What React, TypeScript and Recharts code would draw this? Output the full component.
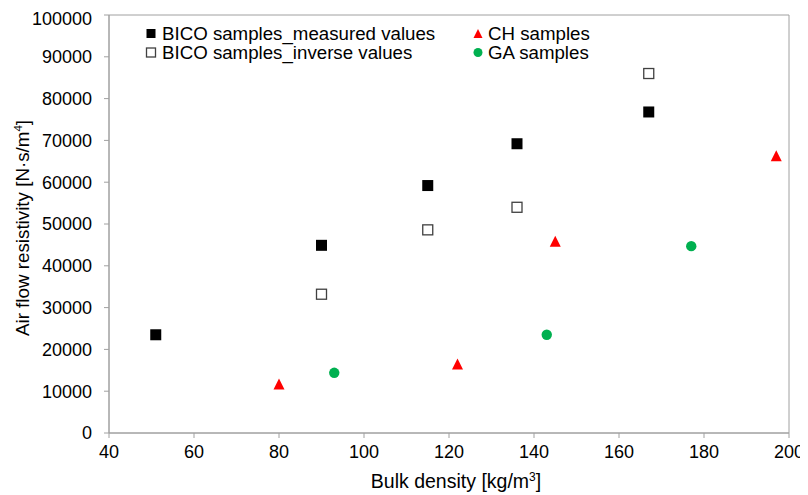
import {
  Label,
  Legend,
  ReferenceArea,
  Scatter,
  ScatterChart,
  XAxis,
  YAxis,
} from 'recharts'

// bulk density [kg/m3] and air flow resistivity [N·s/m4] per sample group
const bicoMeasuredDensity = [51, 90, 115, 136, 167]
const bicoMeasuredResistivity = [23500, 44900, 59200, 69200, 76800]

const bicoInverseDensity = [90, 115, 136, 167]
const bicoInverseResistivity = [33200, 48600, 54000, 86000]

const chDensity = [80, 122, 145, 197]
const chResistivity = [11700, 16500, 45900, 66300]

const gaDensity = [93, 143, 177]
const gaResistivity = [14400, 23500, 44700]

const xTicks = [40, 60, 80, 100, 120, 140, 160, 180, 200]
const yTicks = [0, 10000, 20000, 30000, 40000, 50000, 60000, 70000, 80000, 90000, 100000]

const toPoints = (xs: number[], ys: number[]) =>
  xs.map((x, i) => ({ x, y: ys[i] }))

const bicoMeasured = toPoints(bicoMeasuredDensity, bicoMeasuredResistivity)
const bicoInverse = toPoints(bicoInverseDensity, bicoInverseResistivity)
const chSamples = toPoints(chDensity, chResistivity)
const gaSamples = toPoints(gaDensity, gaResistivity)

const FONT = 'Arial, "Liberation Sans", sans-serif'
const AXIS_GRAY = '#a0a0a0'
const RED = '#ff0000'
const GREEN = '#00b050'

// marker shapes
const FilledSquare = ({ cx, cy, s = 11 }: any) => (
  <rect x={cx - s / 2} y={cy - s / 2} width={s} height={s} fill='#000' />
)
const OpenSquare = ({ cx, cy, s = 10 }: any) => (
  <rect
    x={cx - s / 2}
    y={cy - s / 2}
    width={s}
    height={s}
    fill='#fff'
    stroke='#404040'
    strokeWidth={1.3}
  />
)
const Triangle = ({ cx, cy, s = 11 }: any) => (
  <polygon
    points={`${cx},${cy - s / 2} ${cx + s / 2},${cy + s / 2} ${cx - s / 2},${cy + s / 2}`}
    fill={RED}
  />
)
const Dot = ({ cx, cy, r = 5.2 }: any) => (
  <circle cx={cx} cy={cy} r={r} fill={GREEN} />
)

function ChartLegend() {
  const text = { fontFamily: FONT, fontSize: 18.7, fill: '#000' }
  const row1 = 9.5
  const row2 = 28.5
  return (
    <svg width={480} height={40}>
      <FilledSquare cx={8} cy={row1} s={9} />
      <text x={19} y={row1} dy='0.35em' {...text}>
        BICO samples_measured values
      </text>
      <OpenSquare cx={8} cy={row2} s={9} />
      <text x={19} y={row2} dy='0.35em' {...text}>
        BICO samples_inverse values
      </text>
      <Triangle cx={335} cy={row1} s={9} />
      <text x={345} y={row1} dy='0.35em' {...text}>
        CH samples
      </text>
      <Dot cx={335} cy={row2} r={4.5} />
      <text x={345} y={row2} dy='0.35em' {...text}>
        GA samples
      </text>
    </svg>
  )
}

const XTitle = ({ viewBox }: any) => {
  const cx = viewBox.x + viewBox.width / 2 + 7
  return (
    <text
      x={cx}
      y={viewBox.y + 55}
      textAnchor='middle'
      fontFamily={FONT}
      fontSize={19.5}
      fill='#000'
    >
      Bulk density [kg/m
      <tspan fontSize={12} dy={-7}>
        3
      </tspan>
      <tspan dy={7}>]</tspan>
    </text>
  )
}

const YTitle = ({ viewBox }: any) => {
  const cy = viewBox.y + viewBox.height / 2 + 4
  const x = 21
  return (
    <text
      x={x}
      y={cy}
      transform={`rotate(-90, ${x}, ${cy})`}
      textAnchor='middle'
      fontFamily={FONT}
      fontSize={18.8}
      fill='#000'
    >
      Air flow resistivity [N·s/m
      <tspan fontSize={11.5} dy={-7}>
        4
      </tspan>
      <tspan dy={7}>]</tspan>
    </text>
  )
}

export default function App() {
  const tick = { fontFamily: FONT, fontSize: 18, fill: '#000' }
  return (
    <ScatterChart
      width={800}
      height={487}
      margin={{ top: 7, right: 19, bottom: 0, left: 0 }}
    >
      <XAxis
        type='number'
        dataKey='x'
        domain={[40, 200]}
        ticks={xTicks}
        height={62}
        tick={tick}
        tickSize={5}
        tickMargin={7}
        stroke={AXIS_GRAY}
        tickLine={{ stroke: AXIS_GRAY }}
        allowDataOverflow
      >
        <Label content={<XTitle />} />
      </XAxis>
      <YAxis
        type='number'
        dataKey='y'
        domain={[0, 100000]}
        ticks={yTicks}
        width={101}
        tick={tick}
        tickSize={5}
        tickMargin={12}
        stroke={AXIS_GRAY}
        tickLine={{ stroke: AXIS_GRAY }}
        allowDataOverflow
      >
        <Label content={<YTitle />} />
      </YAxis>
      {/* plot frame */}
      <ReferenceArea
        x1={40}
        x2={200}
        y1={0}
        y2={100000}
        fill='none'
        fillOpacity={0}
        stroke={AXIS_GRAY}
        strokeWidth={1}
      />
      <Legend
        layout='vertical'
        align='center'
        verticalAlign='middle'
        wrapperStyle={{ top: 16, left: 135, width: 480, height: 40 }}
        content={<ChartLegend />}
      />
      <Scatter
        name='BICO samples_measured values'
        data={bicoMeasured}
        shape={<FilledSquare />}
        isAnimationActive={false}
      />
      <Scatter
        name='BICO samples_inverse values'
        data={bicoInverse}
        shape={<OpenSquare />}
        isAnimationActive={false}
      />
      <Scatter
        name='CH samples'
        data={chSamples}
        shape={<Triangle />}
        isAnimationActive={false}
      />
      <Scatter
        name='GA samples'
        data={gaSamples}
        shape={<Dot />}
        isAnimationActive={false}
      />
    </ScatterChart>
  )
}
